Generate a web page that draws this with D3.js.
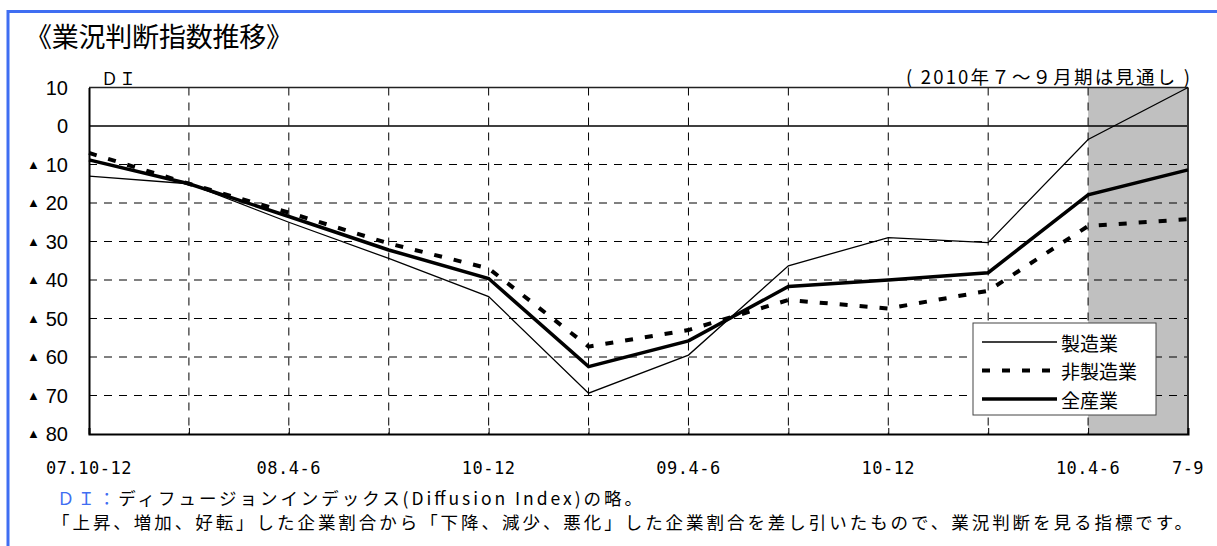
<!DOCTYPE html>
<html>
<head>
<meta charset="utf-8">
<script src="https://cdn.jsdelivr.net/npm/d3@7"></script>
<style>
  body { margin: 0; background: #fff; }
  svg { display: block; }
</style>
</head>
<body>
<div class="diChart"></div>
<script>
// 四半期（12期）
const quarters = ["07.10-12", "08.1-3", "08.4-6", "08.7-9", "08.10-12", "09.1-3", "09.4-6", "09.7-9", "09.10-12", "10.1-3", "10.4-6", "10.7-9"]
const quarterLabels = ["07.10-12", "", "08.4-6", "", "10-12", "", "09.4-6", "", "10-12", "", "10.4-6", "7-9"]
const yTicks = [10, 0, -10, -20, -30, -40, -50, -60, -70, -80]

const seriesNames = ["製造業", "非製造業", "全産業"]
const manufacturing = [-13, -15, -25, -34.4, -44.3, -69.4, -59.5, -36.3, -29, -30.3, -3.5, 10]
const nonManufacturing = [-7, -15, -22.5, -30.5, -37, -57.3, -53, -45.2, -47.4, -42.8, -26, -24.2]
const allIndustries = [-8.8, -15, -23.5, -32.2, -39.6, -62.5, -55.8, -41.7, -40, -38.1, -17.9, -11.4]
const forecastFrom = "10.4-6"

const width = 1217
const height = 546
const margin = { top: 87.5, right: 29, bottom: 112, left: 89 }
const graphWidth = width - margin.left - margin.right
const graphHeight = height - margin.top - margin.bottom

const jp = "'Noto Sans CJK JP', 'Noto Sans', sans-serif"
const blue = "#3f6ef2"

const svg = d3.select(".diChart").append("svg").attr("width", width).attr("height", height)

// 外枠（上と左のみ見える）
svg.append("rect").attr("x", 8).attr("y", 11.5).attr("width", width + 20).attr("height", height + 20)
  .attr("fill", "#fff").attr("stroke", blue).attr("stroke-width", 3)

svg.append("text").attr("x", 25).attr("y", 35).attr("dominant-baseline", "central")
  .attr("font-family", jp).attr("font-size", 27).attr("textLength", 268)
  .text("《業況判断指数推移》")

svg.append("text").attr("x", 101).attr("y", 77).attr("dominant-baseline", "central")
  .attr("font-family", jp).attr("font-size", 17).attr("letter-spacing", 1)
  .text("ＤＩ")

svg.append("text").attr("x", 1190).attr("y", 76).attr("dominant-baseline", "central")
  .attr("text-anchor", "end").attr("font-family", jp).attr("font-size", 18.5).attr("textLength", 284)
  .text("( 2010年７～９月期は見通し )")

const graph = svg.append("g").attr("transform", `translate(${margin.left}, ${margin.top})`)

const xScale = d3.scalePoint().domain(quarters).range([0, graphWidth])
const yScale = d3.scaleLinear().domain([-80, 10]).range([graphHeight, 0])

// 見通し期間の網掛け
graph.append("rect")
  .attr("x", xScale(forecastFrom)).attr("y", 0)
  .attr("width", graphWidth - xScale(forecastFrom)).attr("height", graphHeight)
  .attr("fill", "#c0c0c0")

// 格子線
graph.selectAll(".hgrid").data(yTicks.filter(d => d < 0 && d > -80)).enter().append("line")
  .attr("class", "hgrid")
  .attr("x1", 0).attr("x2", graphWidth)
  .attr("y1", d => yScale(d)).attr("y2", d => yScale(d))
  .attr("stroke", "#000").attr("stroke-width", 1).attr("stroke-dasharray", "8,7")

graph.selectAll(".vgrid").data(quarters.slice(1, -1)).enter().append("line")
  .attr("class", "vgrid")
  .attr("x1", d => xScale(d)).attr("x2", d => xScale(d))
  .attr("y1", 0).attr("y2", graphHeight)
  .attr("stroke", "#000").attr("stroke-width", 1).attr("stroke-dasharray", "8,7")

graph.append("line").attr("x1", 0).attr("x2", graphWidth)
  .attr("y1", yScale(0)).attr("y2", yScale(0)).attr("stroke", "#000").attr("stroke-width", 1.5)

// 枠
graph.append("line").attr("x1", 0).attr("x2", graphWidth).attr("y1", 0).attr("y2", 0)
  .attr("stroke", "#222").attr("stroke-width", 1.5)
graph.append("line").attr("x1", graphWidth).attr("x2", graphWidth).attr("y1", 0).attr("y2", graphHeight)
  .attr("stroke", "#333").attr("stroke-width", 2)

// 軸
const yAxis = d3.axisLeft(yScale).tickValues(yTicks).tickSize(0).tickFormat("")
const yAxisGroup = graph.append("g").call(yAxis)
yAxisGroup.select(".domain").attr("stroke", "#000").attr("stroke-width", 2)

const yLabels = svg.append("g").selectAll("text").data(yTicks).enter().append("text")
  .attr("x", 68).attr("y", d => margin.top + yScale(d))
  .attr("dominant-baseline", "central").attr("text-anchor", "end")
  .attr("font-family", "'Liberation Sans', Arial, sans-serif").attr("font-size", 20)
yLabels.filter(d => d < 0).append("tspan").attr("font-size", 13).attr("dy", -1).text("▲")
yLabels.filter(d => d < 0).append("tspan").attr("dx", 6).attr("dy", 1).text(d => Math.abs(d))
yLabels.filter(d => d >= 0).text(d => d)

const xAxis = d3.axisBottom(xScale).tickSize(-6).tickFormat("")
const xAxisGroup = graph.append("g").attr("transform", `translate(0, ${graphHeight})`).call(xAxis)
xAxisGroup.select(".domain").attr("stroke", "#000").attr("stroke-width", 2)
xAxisGroup.selectAll(".tick line").attr("stroke", "#000")
xAxisGroup.selectAll(".tick").filter((d, i) => i === 0 || i === quarters.length - 1).remove()

graph.append("g").selectAll("text").data(quarters).enter().append("text")
  .attr("x", d => xScale(d)).attr("y", graphHeight + 34)
  .attr("dominant-baseline", "central").attr("text-anchor", "middle")
  .attr("font-family", "'DejaVu Sans Mono', monospace").attr("font-size", 17)
  .attr("letter-spacing", 0.5)
  .text((d, i) => quarterLabels[i])

// 系列
const styles = [
  { width: 1.3, dash: null },
  { width: 4, dash: "8,12" },
  { width: 3.5, dash: null }
]
const seriesData = [manufacturing, nonManufacturing, allIndustries]

const line = d3.line().x((d, i) => xScale(quarters[i])).y(d => yScale(d))

graph.selectAll(".series").data(seriesData).enter().append("path")
  .attr("class", "series")
  .attr("d", line)
  .attr("fill", "none")
  .attr("stroke", "#000")
  .attr("stroke-width", (d, i) => styles[i].width)
  .attr("stroke-dasharray", (d, i) => styles[i].dash)
  .attr("stroke-linejoin", "miter")

// 凡例
const legend = svg.append("g").attr("transform", "translate(973, 323)")
legend.append("rect").attr("width", 183).attr("height", 92)
  .attr("fill", "#fff").attr("stroke", "#444").attr("stroke-width", 1)
const rows = legend.selectAll(".row").data(seriesNames).enter().append("g")
  .attr("transform", (d, i) => `translate(0, ${19 + i * 28.5})`)
rows.append("line").attr("x1", 9).attr("x2", 84).attr("y1", 0).attr("y2", 0)
  .attr("stroke", "#000")
  .attr("stroke-width", (d, i) => styles[i].width)
  .attr("stroke-dasharray", (d, i) => styles[i].dash)
rows.append("text").attr("x", 88).attr("y", 0).attr("dominant-baseline", "central")
  .attr("font-family", jp).attr("font-size", 19).text(d => d)

// 注記
const note1 = svg.append("text").attr("x", 57).attr("y", 497).attr("dominant-baseline", "central")
  .attr("font-family", jp).attr("font-size", 17.5).attr("textLength", 585)
note1.append("tspan").attr("fill", blue).text("ＤＩ：")
note1.append("tspan").attr("fill", "#000").text("ディフュージョンインデックス(Diffusion Index)の略。")

svg.append("text").attr("x", 52).attr("y", 521).attr("dominant-baseline", "central")
  .attr("font-family", jp).attr("font-size", 17.5).attr("textLength", 1140)
  .text("「上昇、増加、好転」した企業割合から「下降、減少、悪化」した企業割合を差し引いたもので、業況判断を見る指標です。")
</script>
</body>
</html>
